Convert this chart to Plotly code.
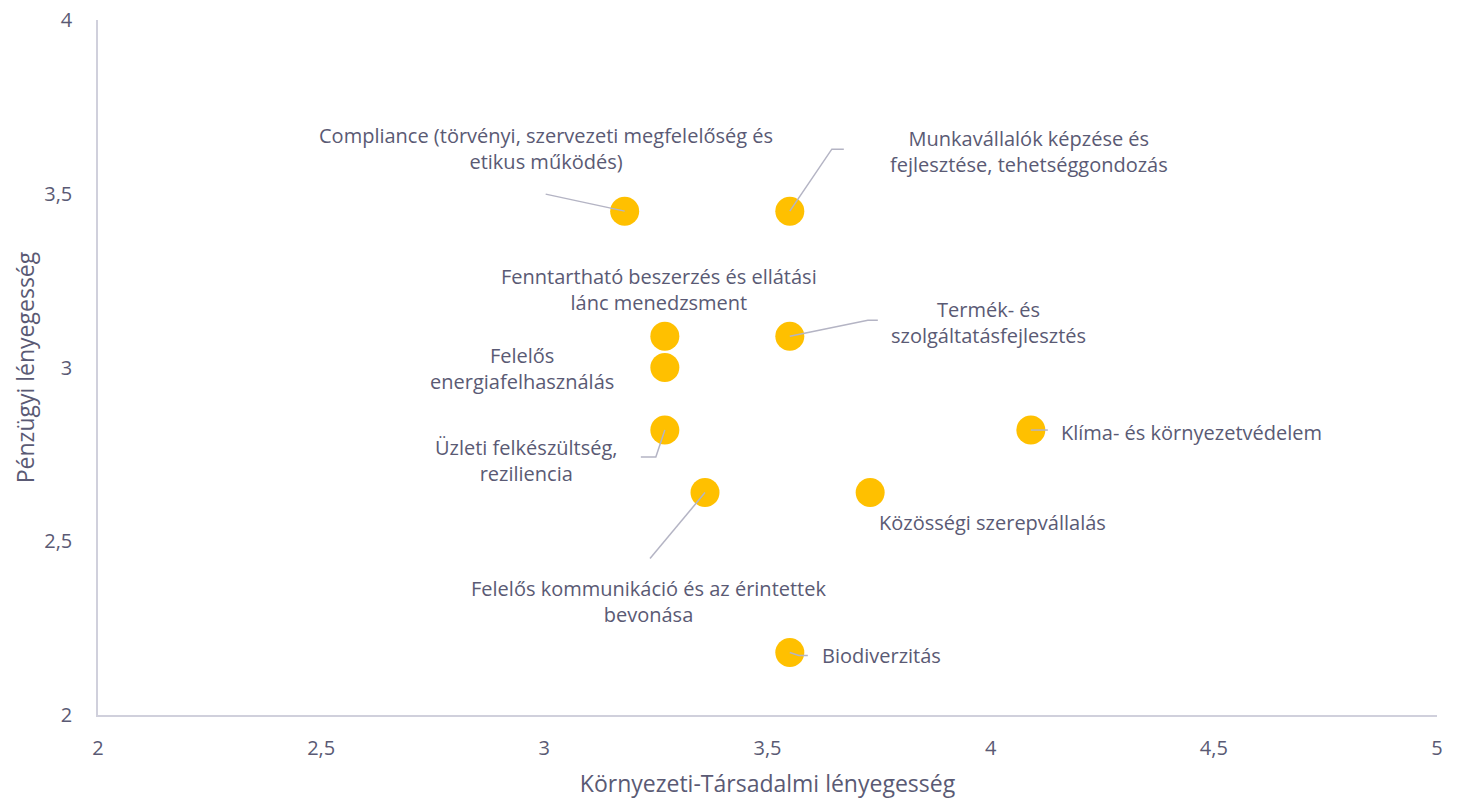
import plotly.graph_objects as go

# ---- data ----
topics = [
    "Compliance (törvényi, szervezeti megfelelőség és<br>etikus működés)",
    "Munkavállalók képzése és<br>fejlesztése, tehetséggondozás",
    "Fenntartható beszerzés és ellátási<br>lánc menedzsment",
    "Termék- és<br>szolgáltatásfejlesztés",
    "Felelős<br>energiafelhasználás",
    "Üzleti felkészültség,<br>reziliencia",
    "Klíma- és környezetvédelem",
    "Felelős kommunikáció és az érintettek<br>bevonása",
    "Közösségi szerepvállalás",
    "Biodiverzitás",
]
env_social = [3.18, 3.55, 3.27, 3.55, 3.27, 3.27, 4.09, 3.36, 3.73, 3.55]
financial = [3.45, 3.45, 3.09, 3.09, 3.00, 2.82, 2.82, 2.64, 2.64, 2.18]

x_ticks = [2, 2.5, 3, 3.5, 4, 4.5, 5]
y_ticks = [2, 2.5, 3, 3.5, 4]

# ---- label placement (pixel offsets from the point, screen coords: +x right, +y down) ----
label_offsets = [(-79, -63), (239, -60), (-6, -47), (199, -14), (-143, 1),
                 (-138, 30), (28, 2), (-57, 109), (7, 30), (30, 3)]
label_anchor = ["center", "center", "center", "center", "center",
                "center", "left", "center", "left", "left"]
leaders = [
    [(0, 0), (-79, -17)],
    [(0, 0), (42, -62), (54, -62)],
    None,
    [(0, 0), (78, -16), (88, -16)],
    None,
    [(0, 0), (-9, 27), (-24, 27)],
    [(0, 0), (17, 0)],
    [(0, 0), (-55, 66)],
    None,
    [(0, 0), (9, 3), (18, 3)],
]

TXT = "#5a5a74"
FONT = "Open Sans"
LINE = "#b4b4c4"

fig = go.Figure()
fig.add_trace(go.Scatter(
    x=env_social, y=financial, mode="markers",
    marker=dict(size=29, color="#FFC000", line=dict(width=0)),
    hoverinfo="skip", showlegend=False,
))

for xv, yv, t, (dx, dy), anc, lead in zip(env_social, financial, topics,
                                          label_offsets, label_anchor, leaders):
    fig.add_annotation(x=xv, y=yv, text=t, showarrow=False, xshift=dx, yshift=-dy,
                       xanchor=anc, yanchor="middle",
                       font=dict(family=FONT, size=20, color=TXT), align="center")
    if lead:
        path = "M " + " L ".join(f"{px},{-py}" for px, py in lead)
        fig.add_shape(type="path", path=path, xref="x", yref="y",
                      xsizemode="pixel", ysizemode="pixel", xanchor=xv, yanchor=yv,
                      line=dict(color=LINE, width=1.5), layer="above")

axis_common = dict(showgrid=False, zeroline=False, showline=True, linecolor="#d0d0dc",
                   linewidth=1.5, ticks="", tickfont=dict(family=FONT, size=20, color=TXT))
fig.update_xaxes(range=[2, 5], tickvals=x_ticks, ticklabelstandoff=14,
                 title=dict(text="Környezeti-Társadalmi lényegesség",
                            font=dict(family=FONT, size=23, color=TXT), standoff=16),
                 **axis_common)
fig.update_yaxes(range=[2, 4], tickvals=y_ticks, ticklabelstandoff=20,
                 title=dict(text="Pénzügyi lényegesség",
                            font=dict(family=FONT, size=23, color=TXT), standoff=3),
                 **axis_common)
fig.update_layout(width=1463, height=800, separators=", ",
                  margin=dict(l=98, r=26, t=20, b=85, autoexpand=False),
                  plot_bgcolor="white", paper_bgcolor="white")
fig.write_html("out.html", config={"displayModeBar": False},
               post_script="document.body.style.margin='0';document.body.style.padding='0';")
